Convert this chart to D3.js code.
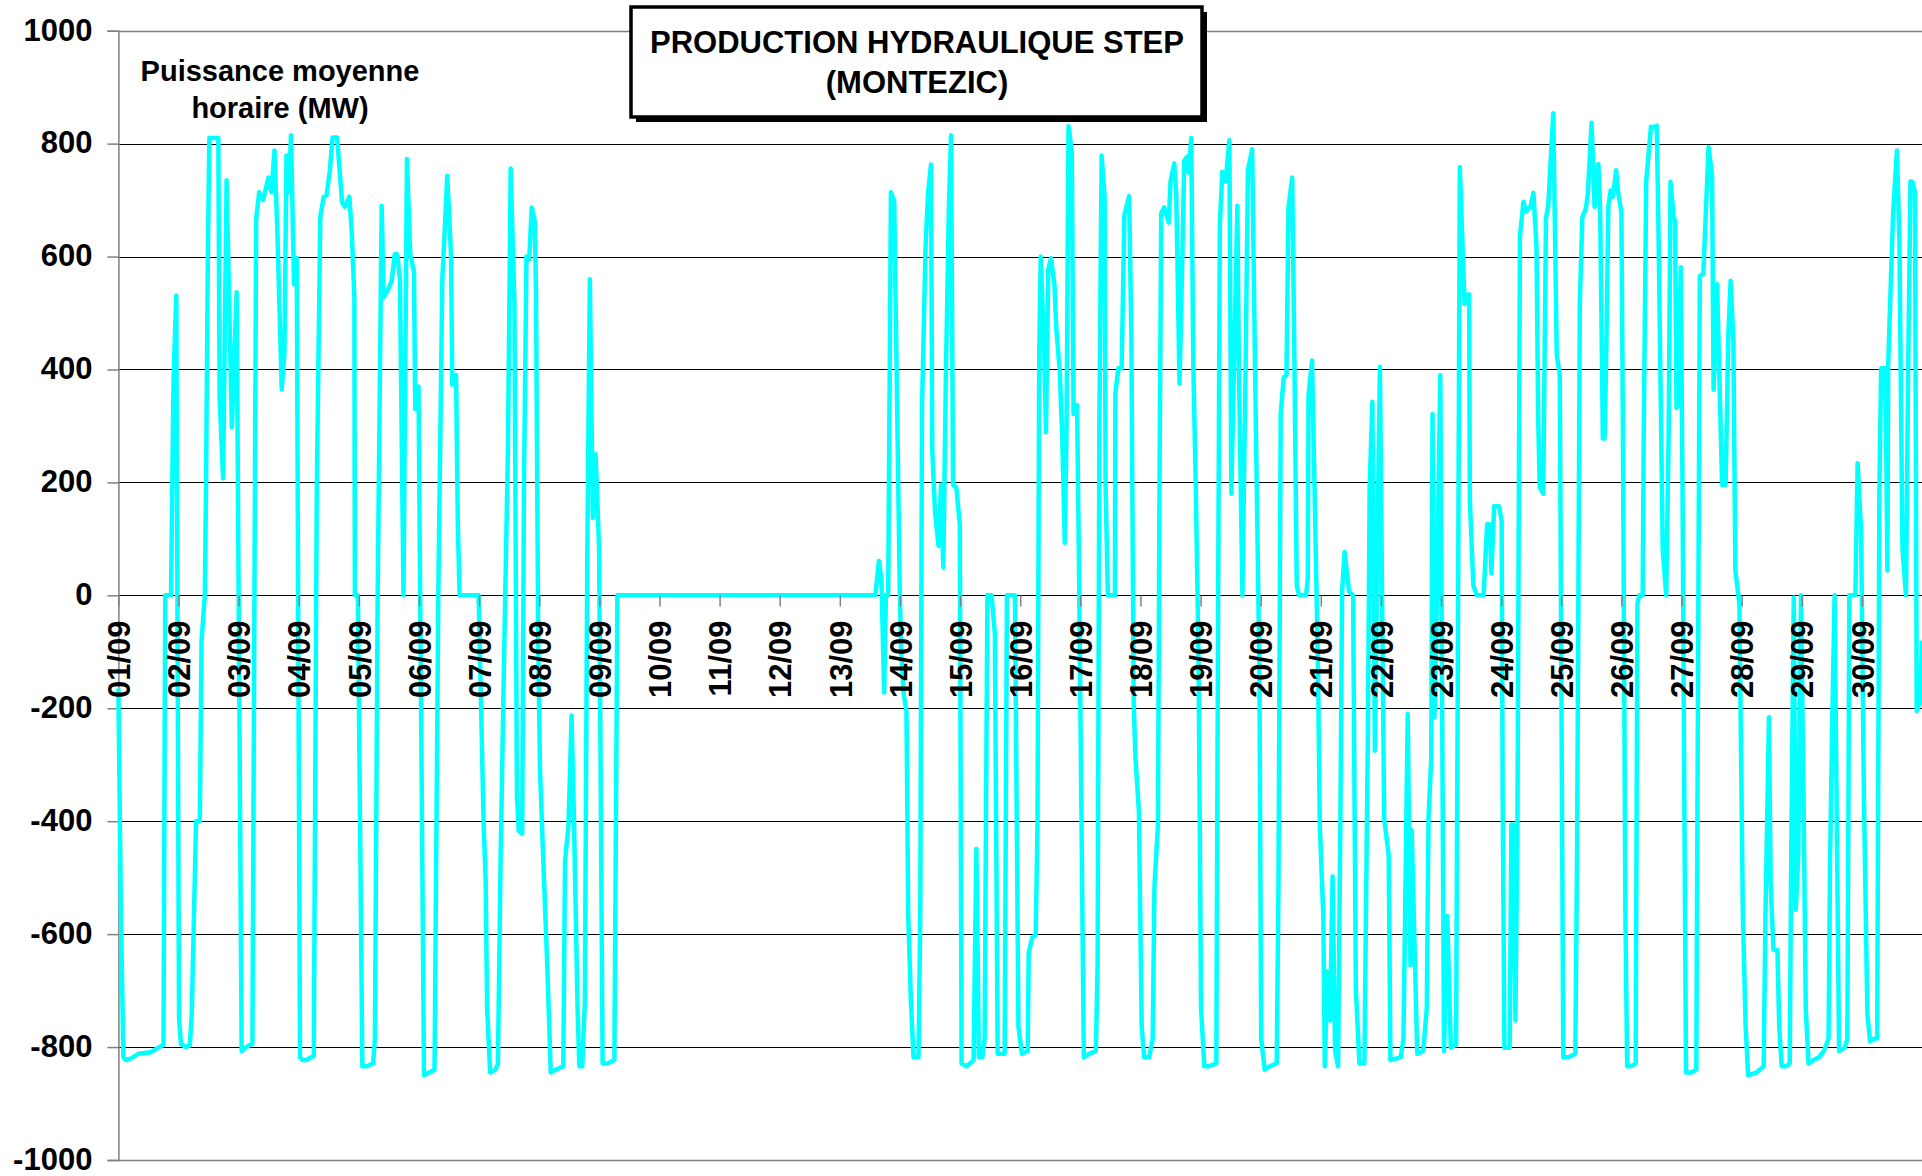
<!DOCTYPE html>
<html>
<head>
<meta charset="utf-8">
<script src="https://cdn.jsdelivr.net/npm/d3@7"></script>
<style>
	body { margin: 0; background: #fff; }
	svg text { font-family: 'Liberation Sans', Arial, sans-serif; font-weight: bold; fill: #000; }
</style>
</head>
<body>
<div id="chart"></div>
<script>
// hourly mean power, Montezic pumped storage, September (hour from 01/09 00:00, MW)
const points = [
	[0, -165], [1, -560], [2, -818], [3, -823], [5, -820], [8, -812], [13, -809], [16, -801], [18, -796],
	[18.7, 0], [21, 0], [22, 380], [23.1, 531], [24.2, -750], [25, -795], [27, -800], [28.5, -797],
	[29.3, -740], [31, -400], [32.5, -400], [33.2, -80], [34.5, 0], [35, 200], [35.7, 600], [36.3, 810],
	[39.9, 810], [40.4, 354], [41.8, 207], [43.2, 735], [45.3, 298], [47.2, 537], [49.2, -807],
	[50.6, -801], [53.5, -794], [55, 667], [56.2, 714], [57.8, 700], [59.9, 740], [61.1, 714],
	[62.3, 788], [63.5, 640], [65.2, 365], [66.3, 430], [67.1, 779], [68.1, 714], [68.9, 815],
	[70.1, 551], [71.2, 598], [72.5, -818], [73.5, -823], [75, -823], [77, -818], [78, -816],
	[79.2, 191], [80.6, 670], [81.9, 705], [83.1, 708], [84.4, 752], [85.5, 811], [87.3, 811],
	[89.3, 696], [90.4, 688], [92.2, 706], [93.2, 640], [94.2, 527], [94.4, 0], [95.6, 0],
	[97.4, -834], [99.1, -834], [101.7, -829], [102.4, -785], [103.5, 0], [105.1, 690], [105.9, 528],
	[107.5, 540], [109.1, 557], [110.3, 604], [111.3, 604], [112.4, 560], [113.8, 0], [115.2, 773],
	[116.5, 604], [118, 573], [118.5, 330], [119.8, 370], [122, -850], [124.1, -845], [126.2, -840],
	[127.7, 0], [129.3, 558], [131.3, 743], [132.8, 600], [133.3, 373], [134.8, 390], [135.5, 126],
	[136.2, 0], [143.8, 0], [144.8, -200], [145.8, -406], [146.6, -503], [147.2, -731], [148.4, -845],
	[150.5, -840], [151.5, -830], [152.6, -460], [154, -102], [155.5, 256], [156.6, 756], [158.1, 516],
	[159.1, -351], [159.8, -417], [161.2, -422], [161.9, 191], [162.9, 600], [164, 595], [165, 687],
	[166.2, 664], [166.7, 538], [167.6, -80], [168.3, -308], [169.8, -492], [171.2, -655], [172.6, -845],
	[174.7, -840], [177.6, -834], [178.3, -471], [179.7, -406], [180.9, -213], [181.9, -406],
	[183.3, -731], [184, -834], [185.2, -834], [186.2, -720], [187.2, 82], [188.2, 560], [189.4, 137],
	[190.5, 250], [191.9, 82], [193.3, -829], [195.1, -829], [198, -823], [199.2, 0],
	[302.2, 0], [303.6, 61], [304.6, 28], [305.7, -172], [306.4, 0], [307.3, 0], [308.4, 714],
	[309.7, 698], [311.9, 17], [312.5, -102], [313.5, -175], [314.6, -205], [315.3, -568], [316.4, -720],
	[317.4, -818], [319.4, -818], [320.1, -568], [320.8, 332], [322.2, 614], [323.2, 711], [324.4, 763],
	[324.9, 256], [326, 148], [327.4, 88], [328.4, 196], [329.3, 50], [330.4, 408], [331.5, 679],
	[332.4, 815], [333.2, 196], [334.5, 191], [335.9, 126], [336.6, -829], [338.7, -834], [341.4, -823],
	[342.5, -449], [343.5, -818], [344.9, -818], [345.8, -785], [346.9, 0], [348.6, 0], [349.9, -69],
	[351, -812], [353.8, -812], [354.7, 0], [357.9, 0], [359.3, -764], [360.7, -812], [363, -807],
	[363.4, -633], [364.8, -606], [366.2, -601], [366.9, -406], [367.6, 429], [368.2, 600], [369.6, 429],
	[370.3, 289], [371.2, 577], [372.3, 597], [373.7, 549], [374.4, 473], [375.8, 397], [376.8, 278],
	[377.8, 93], [378.5, 299], [379.3, 831], [380.6, 785], [381.3, 321], [382.7, 337], [383.4, 82],
	[385.4, -818], [387.5, -812], [390.2, -807], [390.9, -655], [391.6, 299], [392.5, 779], [393.7, 706],
	[394.1, 191], [395, 0], [397.8, 0], [398, 359], [399.2, 402], [400.5, 402], [401.6, 674],
	[403.5, 707], [404.4, 451], [405.3, -189], [406, -286], [407.4, -384], [408.5, -764], [409.5, -818],
	[411.5, -818], [412.9, -785], [413.6, -514], [415, -406], [415.6, 191], [416.3, 677], [417.5, 687],
	[419.3, 660], [420, 733], [421.5, 765], [422.3, 711], [423.6, 375], [424.6, 570], [425.5, 770],
	[426.7, 777], [427.3, 749], [428.3, 810], [429.1, 408], [430.1, 191], [431.2, -113], [432.2, -731],
	[433.5, -834], [435.2, -834], [438.3, -829], [439, -26], [439.7, 657], [440.7, 750], [442, 733],
	[443.5, 806], [444.3, 180], [446.7, 690], [447.3, 408], [448.7, 0], [449.3, 191], [450, 408],
	[450.9, 753], [452.6, 790], [453.9, 354], [455.5, -134], [456.2, -785], [457.6, -840], [459.6, -834],
	[462.4, -829], [463.1, -514], [464, 321], [465.2, 386], [466.3, 390], [467.1, 687], [468.6, 740],
	[469.5, 408], [470.4, 17], [471.3, 0], [474.1, 0], [474.8, 28], [475.1, 354], [476.5, 416],
	[477.5, 191], [478.9, -134], [479.6, -406], [481, -568], [481.6, -834], [482.6, -666], [483.7, -753],
	[484.7, -498], [485.7, -807], [486.9, -834], [487.8, -406], [488.5, 7], [489.5, 77], [491.3, 7],
	[492.9, 0], [494, -698], [495.4, -829], [497.4, -829], [498.8, -243], [499.5, 191], [500.6, 343],
	[501.6, -275], [502.6, 82], [503.6, 405], [505.3, -395], [507.1, -460], [507.8, -823], [511.9, -818],
	[513, -785], [514.7, -210], [515.8, -655], [516.3, -416], [518.5, -812], [520.9, -807], [522.3, -731],
	[523, -395], [524.1, -286], [524.6, 321], [525.4, -216], [526.4, 7], [527.7, 390], [529.2, -807],
	[530.5, -568], [531.9, -801], [534, -796], [534.7, -134], [535.5, 758], [537.4, 516], [538, 532],
	[539.2, 533], [539.5, 169], [540.9, 17], [542.3, 0], [545, 0], [546.4, 126], [547.5, 126],
	[548.1, 39], [549.2, 158], [551.2, 158], [552.2, 131], [552.6, -351], [553.3, -801], [555.4, -801],
	[556.1, -406], [556.8, -406], [557.7, -753], [558.5, -406], [559.5, 636], [560.9, 697], [562, 680],
	[563.7, 688], [564.9, 713], [566.1, 617], [566.8, 310], [567.4, 191], [568.8, 180], [569.9, 668],
	[570.8, 690], [572.8, 854], [574.2, 426], [575.4, 391], [576.8, -818], [578.8, -818], [581.6, -812],
	[582.3, -460], [583.4, 516], [584.4, 670], [585.8, 685], [586.6, 711], [588.1, 837], [589.3, 688],
	[590.8, 764], [591.5, 690], [592.6, 278], [593.3, 278], [594, 440], [594.8, 690], [595.7, 717],
	[596.6, 706], [597.9, 753], [598.8, 711], [600, 679], [600.6, 299], [601.6, -568], [602.3, -834],
	[603.7, -834], [605.7, -829], [606.4, -15], [607.1, 0], [608.5, 0], [608.9, 278], [609.9, 733],
	[611.8, 830], [613, 829], [614.1, 832], [614.8, 650], [616.5, 82], [617.9, 0], [618.9, 299],
	[619.6, 732], [620.9, 668], [621.4, 664], [622, 332], [622.6, 337], [623.7, 581], [624.4, 191],
	[625.1, -351], [625.8, -845], [627.8, -845], [629.9, -840], [631.3, 565], [632.7, 570], [634.8, 794],
	[636.2, 744], [636.8, 364], [638.2, 551], [640.2, 196], [641.6, 196], [642.7, 462], [643.6, 557],
	[644.7, 451], [645.5, 44], [647.1, -15], [648.5, -568], [649.6, -764], [650.6, -850], [654, -845],
	[656.8, -834], [657.5, -568], [658.9, -216], [659.6, -514], [660.7, -628], [662.3, -628], [663, -764],
	[664, -834], [665.8, -834], [667.2, -829], [667.8, -460], [668.8, -4], [669.6, -557], [670.6, -460],
	[671.7, 0], [672.7, -351], [673.6, -731], [674.7, -829], [676.8, -823], [678.9, -818], [680.9, -807],
	[682.7, -785], [683.3, -471], [684.1, -243], [685.1, 0], [686.9, -807], [689.2, -801], [690.2, -785],
	[691, 0], [693.4, 0], [694.3, 234], [695.7, 115], [696.8, -351], [698.2, -742], [699.3, -790],
	[700.9, -785], [702.1, -785], [703, 191], [703.7, 402], [705.4, 402], [706.2, 44], [706.5, 408],
	[707.6, 560], [708.5, 679], [710, 788], [711, 625], [712.2, 82], [713.6, 0], [714.5, 408],
	[715.4, 733], [716.2, 732], [717.2, 714], [717.9, -205], [719.2, -189], [720, -80]
];

const dayLabels = [
	'01/09', '02/09', '03/09', '04/09', '05/09', '06/09', '07/09', '08/09', '09/09', '10/09',
	'11/09', '12/09', '13/09', '14/09', '15/09', '16/09', '17/09', '18/09', '19/09', '20/09',
	'21/09', '22/09', '23/09', '24/09', '25/09', '26/09', '27/09', '28/09', '29/09', '30/09'
];
const yTicks = [ -1000, -800, -600, -400, -200, 0, 200, 400, 600, 800, 1000 ];
const titleLines = [ 'PRODUCTION HYDRAULIQUE STEP', '(MONTEZIC)' ];
const unitLines = [ 'Puissance moyenne', 'horaire (MW)' ];

let dimensions = {
	width  : 1922,
	height : 1176,
	margin : {
		top    : 30.7,
		right  : 0,
		bottom : 16,
		left   : 118.4
	}
};
dimensions.boundedWidth = dimensions.width - dimensions.margin.left - dimensions.margin.right;
dimensions.boundedHeight = dimensions.height - dimensions.margin.top - dimensions.margin.bottom;

const svg = d3
	.select('#chart')
	.append('svg')
	.attr('width', dimensions.width)
	.attr('height', dimensions.height);

svg.append('rect').attr('width', dimensions.width).attr('height', dimensions.height).attr('fill', '#fff');

const x = d3
	.scaleLinear()
	.domain([ 0, 720 ])
	.range([ dimensions.margin.left, dimensions.width - dimensions.margin.right ]);

const y = d3
	.scaleLinear()
	.domain([ -1000, 1000 ])
	.range([ dimensions.margin.top + dimensions.boundedHeight, dimensions.margin.top ]);

// horizontal gridlines (outer ones are the plot border, grey)
svg
	.append('g')
	.selectAll('line')
	.data(yTicks)
	.enter()
	.append('line')
	.attr('x1', x(0))
	.attr('x2', x(720))
	.attr('y1', (d) => Math.round(y(d)) + 0.5)
	.attr('y2', (d) => Math.round(y(d)) + 0.5)
	.attr('stroke', (d) => (Math.abs(d) === 1000 ? '#808080' : '#000'))
	.attr('stroke-width', (d) => (Math.abs(d) === 1000 ? 1.5 : 1));

// Y axis, plain hyphen for the minus sign like the original
const yAxis = svg
	.append('g')
	.attr('transform', `translate(${x(0)},0)`)
	.call(d3.axisLeft(y).tickValues(yTicks).tickSize(11).tickPadding(15).tickFormat((d) => String(d)));
yAxis.select('.domain').attr('stroke', '#808080').attr('stroke-width', 1.5);
yAxis.selectAll('.tick line').attr('stroke', '#808080').attr('stroke-width', 1.5);
yAxis.selectAll('text').attr('font-size', '31px').attr('dy', '0.3em');

// the series
const line = d3.line().x((d) => x(d[0])).y((d) => y(d[1]));

svg
	.append('path')
	.datum(points)
	.attr('fill', 'none')
	.attr('stroke', '#00ffff')
	.attr('stroke-width', 4.5)
	.attr('stroke-linejoin', 'round')
	.attr('d', line);

// X axis on the zero line, one tick per day
const xAxis = svg
	.append('g')
	.attr('transform', `translate(0,${Math.round(y(0)) + 0.5})`)
	.call(
		d3
			.axisBottom(x)
			.tickValues(dayLabels.map((d, i) => i * 24))
			.tickSize(11)
			.tickFormat((d, i) => dayLabels[i])
	);
xAxis.select('.domain').remove();
xAxis.selectAll('.tick line').attr('stroke', '#808080').attr('stroke-width', 1.5);
xAxis
	.selectAll('text')
	.attr('font-size', '31px')
	.attr('transform', 'rotate(-90)')
	.attr('x', -25)
	.attr('y', 0)
	.attr('dy', '0.36em')
	.style('text-anchor', 'end');

// unit label
svg
	.append('g')
	.selectAll('text')
	.data(unitLines)
	.enter()
	.append('text')
	.attr('x', 280)
	.attr('y', (d, i) => 81 + i * 37)
	.attr('font-size', '29px')
	.attr('text-anchor', 'middle')
	.text((d) => d);

// title box with shadow
const titleBox = svg.append('g').attr('transform', 'translate(631, 7)');
titleBox.append('rect').attr('x', 5).attr('y', 5).attr('width', 571).attr('height', 110).attr('fill', '#000');
titleBox
	.append('rect')
	.attr('width', 571)
	.attr('height', 110)
	.attr('fill', '#fff')
	.attr('stroke', '#000')
	.attr('stroke-width', 3.5);
titleBox
	.selectAll('text')
	.data(titleLines)
	.enter()
	.append('text')
	.attr('x', 286)
	.attr('y', (d, i) => 46 + i * 40)
	.attr('font-size', '31px')
	.attr('text-anchor', 'middle')
	.text((d) => d);
</script>
</body>
</html>
